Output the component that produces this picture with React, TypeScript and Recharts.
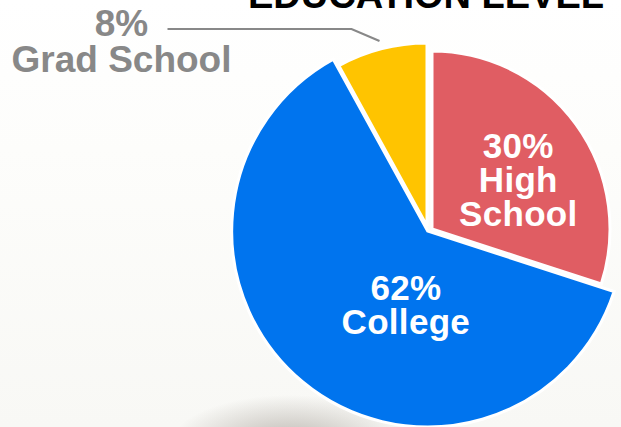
import { PieChart, Pie, Cell } from 'recharts'

const CATEGORIES = ['High School', 'College', 'Grad School']
const SHARES = [30, 62, 8]
const COLORS = ['#E05D63', '#0074EE', '#FFC400']
const TITLE = 'EDUCATION LEVEL'

const data = CATEGORIES.map((name, i) => ({ name, value: SHARES[i] }))

// each slice is drawn by its own Pie so it can sit a little off-centre with its own radius
const SLICES = [
  { name: 'College', cx: 427.7, cy: 231, r: 196 },
  { name: 'Grad School', cx: 427, cy: 226, r: 183 },
  { name: 'High School', cx: 432, cy: 229, r: 178 },
]

// inside labels: angle nudge (deg) from midAngle and radius fraction
const INSIDE = {
  'High School': { nudge: -6, frac: 0.56, lines: ['High', 'School'], lh: 34 },
  College: { nudge: 23, frac: 0.39, lines: ['College'], lh: 33.5 },
} as Record<string, { nudge: number; frac: number; lines: string[]; lh: number }>

const RADIAN = Math.PI / 180
const FONT = '"Liberation Sans", Arial, Helvetica, sans-serif'
const GREY = '#888888'

function makeLabel(target: string) {
  return (props: any) => {
    const { cx, cy, midAngle, outerRadius, name, value } = props
    if (name !== target) return null
    const inside = INSIDE[name]
    if (inside) {
      const a = (midAngle + inside.nudge) * RADIAN
      const rr = outerRadius * inside.frac
      const x = cx + rr * Math.cos(a)
      const y = cy - rr * Math.sin(a)
      const rows = [`${value}%`, ...inside.lines]
      const first = y - ((rows.length - 1) * inside.lh + 25) / 2 + 25
      return (
        <g>
          {rows.map((t, i) => (
            <text
              key={t}
              x={x}
              y={first + i * inside.lh}
              fill="#ffffff"
              textAnchor="middle"
              fontFamily={FONT}
              fontWeight="bold"
              fontSize={35}
              letterSpacing={0.3}
            >
              {t}
            </text>
          ))}
        </g>
      )
    }
    // outside label with elbow leader line
    const a = midAngle * RADIAN
    const sx = cx + (outerRadius + 8) * Math.cos(a)
    const sy = cy - (outerRadius + 8) * Math.sin(a)
    const ex = sx - 28
    const ey = sy - 12
    const hx = ex - 184
    const tx = hx - 46
    return (
      <g>
        <polyline
          points={`${sx},${sy} ${ex},${ey} ${hx},${ey}`}
          fill="none"
          stroke={GREY}
          strokeWidth={2.2}
        />
        <text
          x={tx}
          y={ey + 7}
          fill={GREY}
          textAnchor="middle"
          fontFamily={FONT}
          fontWeight="bold"
          fontSize={37}
        >
          {`${value}%`}
        </text>
        <text
          x={tx}
          y={ey + 43}
          fill={GREY}
          textAnchor="middle"
          fontFamily={FONT}
          fontWeight="bold"
          fontSize={37}
        >
          {name}
        </text>
      </g>
    )
  }
}

export default function App() {
  return (
    <div
      style={{
        position: 'fixed',
        left: 0,
        top: 0,
        width: 621,
        height: 427,
        overflow: 'hidden',
        background:
          'radial-gradient(ellipse 120px 50px at 290px 445px, rgba(180,175,168,0.9), rgba(180,175,168,0) 100%), linear-gradient(180deg, #ffffff 0%, #fdfdfb 35%, #f8f8f5 100%)',
      }}
    >
      <PieChart width={621} height={427} margin={{ top: 0, right: 0, bottom: 0, left: 0 }}>
        {SLICES.map((s) => (
          <Pie
            key={s.name}
            data={data}
            dataKey="value"
            nameKey="name"
            cx={s.cx}
            cy={s.cy}
            innerRadius={0}
            outerRadius={s.r}
            startAngle={90}
            endAngle={-270}
            isAnimationActive={false}
            labelLine={false}
            label={makeLabel(s.name)}
          >
            {data.map((d, i) => (
              <Cell
                key={d.name}
                fill={d.name === s.name ? COLORS[i] : 'none'}
                stroke={d.name === s.name ? '#ffffff' : 'none'}
                strokeWidth={3}
              />
            ))}
          </Pie>
        ))}
      </PieChart>
      <svg
        width={621}
        height={427}
        style={{ position: 'absolute', left: 0, top: 0, pointerEvents: 'none' }}
      >
        <text
          x={426}
          y={8}
          textAnchor="middle"
          fontFamily={FONT}
          fontWeight="bold"
          fontSize={38}
          fill="#000000"
        >
          {TITLE}
        </text>
      </svg>
    </div>
  )
}
